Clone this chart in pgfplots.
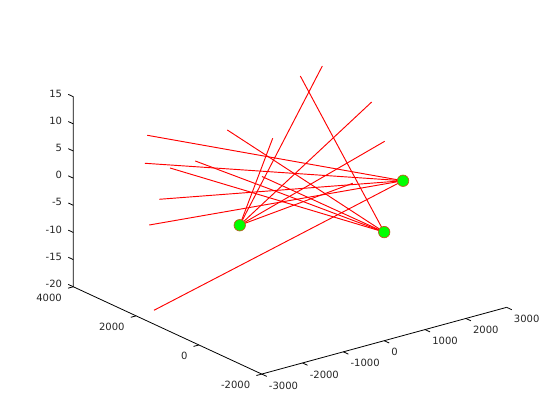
\documentclass[border=0pt]{standalone}
\usepackage{fontspec}
\setmainfont{DejaVu Sans}
\usepackage{pgfplots}
\pgfplotsset{compat=1.18}
\definecolor{tl}{RGB}{38,38,38}
\definecolor{mk}{RGB}{190,90,30}
\begin{document}
\begin{tikzpicture}
\begin{axis}[overlay,
  x={(0.04083*0.75pt,0.01112*0.75pt)},
  y={(-0.0314*0.75pt,0.01455*0.75pt)},
  z={(0pt,5.43*0.75pt)},
  xmin=-3000,xmax=3000,ymin=-2000,ymax=4000,zmin=-20,zmax=15,
  clip=false,
  axis line style={draw=none},
  xtick={-3000,-2000,-1000,0,1000,2000,3000},
  ytick={-2000,0,2000,4000},
  ztick={-20,-15,-10,-5,0,5,10,15},
  tick align=outside,
  tick style={draw=none},
  major tick length=3.75pt,
  minor tick num=0,
  scaled ticks=false,
  /pgf/number format/assume math mode=true,
  /pgf/number format/1000 sep={},
  tick label style={font=\fontsize{7.5}{9}\selectfont,text=tl},
  xticklabel style={anchor=west,xshift=-1.5pt,yshift=-7pt},
  yticklabel style={anchor=east,xshift=-1.5pt,yshift=-7pt},
  zticklabel style={anchor=east,xshift=-1.5pt,yshift=0.7pt},
]
\coordinate (O) at (axis cs:0,0,0);
\draw[black,line width=0.6pt] (axis cs:-3000,-2000,-20)--(axis cs:3000,-2000,-20);
\draw[black,line width=0.6pt] (axis cs:-3000,-2000,-20)--(axis cs:-3000,4000,-20)--(axis cs:-3000,4000,15);
\pgfplotsinvokeforeach{-3000,-2000,-1000,0,1000,2000,3000}{
  \draw[black,line width=0.6pt] (axis cs:#1,-2000,-20)--(axis cs:#1,-2160,-20);}
\pgfplotsinvokeforeach{-2000,0,2000,4000}{
  \draw[black,line width=0.6pt] (axis cs:-3000,#1,-20)--(axis cs:-3130,#1,-20);}
\pgfplotsinvokeforeach{-20,-15,-10,-5,0,5,10,15}{
  \draw[black,line width=0.6pt] (axis cs:-3000,4000,#1)--(axis cs:-3000,4160,#1);}
% lines to G1
\addplot3[red,line width=0.7pt] coordinates {(-1336,3809,5) (2000,0,0)};
\addplot3[red,line width=0.7pt] coordinates {(-1400,3799,0) (2000,0,0)};
\addplot3[red,line width=0.7pt] coordinates {(-1474,3247,-5) (2000,0,0)};
\addplot3[red,line width=0.7pt] coordinates {(-2485,2252,-5) (2000,0,0)};
\addplot3[red,line width=0.7pt] coordinates {(-2540,2030,-20) (2000,0,0)};
% lines to G2
\addplot3[red,line width=0.7pt] coordinates {(1191,2221,15) (0,-2000,0)};
\addplot3[red,line width=0.7pt] coordinates {(75,3094,5) (0,-2000,0)};
\addplot3[red,line width=0.7pt] coordinates {(-547,3306,0) (0,-2000,0)};
\addplot3[red,line width=0.7pt] coordinates {(-1170,3301,0) (0,-2000,0)};
\addplot3[red,line width=0.7pt] coordinates {(-35,1847,0) (0,-2000,0)};
% lines to G3
\addplot3[red,line width=0.7pt] coordinates {(1864,2394,15) (-2000,0,0)};
\addplot3[red,line width=0.7pt] coordinates {(2331,1429,10) (-2000,0,0)};
\addplot3[red,line width=0.7pt] coordinates {(2128,750,5) (-2000,0,0)};
\addplot3[red,line width=0.7pt] coordinates {(499,2200,5) (-2000,0,0)};
\addplot3[red,line width=0.7pt] coordinates {(1139,484,0) (-2000,0,0)};
\addplot3[only marks,mark=*,mark size=4.3pt,mark options={fill=green,draw=mk,line width=0.5pt}] coordinates {(2000,0,0) (0,-2000,0) (-2000,0,0)};
\end{axis}
\path[use as bounding box,x=0.75pt,y=-0.75pt] (O) ++(-321.4,-203) rectangle ++(560,420);
\end{tikzpicture}
\end{document}
